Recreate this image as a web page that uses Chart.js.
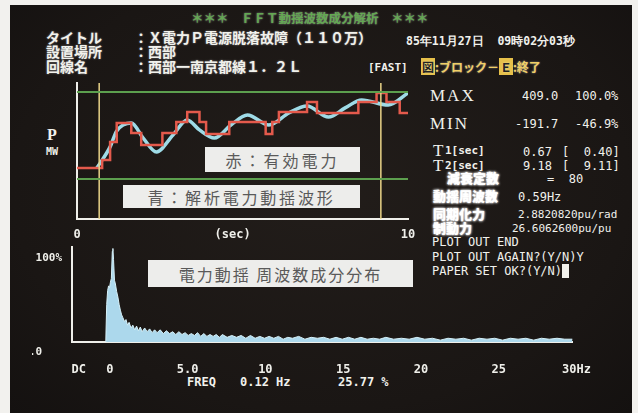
<!DOCTYPE html>
<html lang="ja">
<head>
<meta charset="UTF-8">
<title>FFT動揺波数成分解析</title>
<script src="https://cdn.jsdelivr.net/npm/chart.js"></script>
<style>
  body { margin:0; width:638px; height:413px; overflow:hidden; position:relative; background:#f2f1ee; font-family:'Noto Sans CJK JP', sans-serif; }
  .screen { position:absolute; left:10px; top:5px; width:622px; height:408px;
    background: radial-gradient(ellipse at 50% 45%, #221d1a 0%, #1a1614 70%, #141110 100%); }
  .t { position:absolute; white-space:nowrap; line-height:1; color:#f1f1ec; }
  .jp { font-family:'Noto Sans CJK JP', sans-serif; font-weight:700; font-size:14px; text-shadow:0 0 2px rgba(255,255,255,0.5); }
  .glow { font-family:'Noto Sans CJK JP', sans-serif; font-weight:900; font-size:13px; color:#fff; text-shadow:0 0 3px #fff, 0 0 2px #fff; }
  .m { font-family:'DejaVu Sans Mono', monospace; font-size:12px; }
  .mb { font-family:'DejaVu Sans Mono', monospace; font-size:12px; font-weight:700; }
  .serif { font-family:'Liberation Serif', serif; font-size:17px; letter-spacing:2px; }
  .box { position:absolute; background:#ededeb; color:#5a5a5a; font-family:'Noto Sans CJK JP', sans-serif; font-size:16px; line-height:1; display:flex; align-items:center; justify-content:center; white-space:nowrap; }
  .key { background:#e6c04a; color:#222; padding:0 1px; }
  canvas { position:absolute; }
</style>
</head>
<body>
<div class="screen"></div>

<!-- header -->
<div class="t jp" style="left:191px;top:12px;font-size:12.5px;color:#63a852;">＊＊＊　ＦＦＴ動揺波数成分解析　＊＊＊</div>
<div class="t jp" style="left:46px;top:30px;">タイトル</div>
<div class="t jp" style="left:134px;top:30px;">：Ｘ電力Ｐ電源脱落故障（１１０万）</div>
<div class="t mb" style="left:406px;top:36px;font-size:11.5px;">85年11月27日&nbsp;&nbsp;09時02分03秒</div>
<div class="t jp" style="left:46px;top:44px;">設置場所</div>
<div class="t jp" style="left:134px;top:44px;">：西部</div>
<div class="t jp" style="left:46px;top:59px;">回線名</div>
<div class="t jp" style="left:134px;top:59px;">：西部一南京都線１．２Ｌ</div>
<div class="t mb" style="left:368px;top:62px;font-size:11px;">[FAST]</div>
<div class="t jp" style="left:421px;top:61px;font-size:12px;color:#f0cf66;"><span class="key">図</span>:ブロック－<span class="key">Ｅ</span>:終了</div>

<!-- upper plot labels -->
<div class="t serif" style="left:47px;top:127px;font-size:16px;letter-spacing:0;font-weight:700;">P</div>
<div class="t mb" style="left:46px;top:147px;font-size:10px;">MW</div>
<div class="box" style="left:205px;top:147px;width:155px;height:25px;letter-spacing:3px;">赤：有効電力</div>
<div class="box" style="left:123px;top:185px;width:237px;height:23px;letter-spacing:2.8px;">青：解析電力動揺波形</div>

<!-- right panel -->
<div class="t serif" style="left:430px;top:87px;">MAX</div>
<div class="t m" style="left:522px;top:90px;">409.0</div>
<div class="t m" style="left:575px;top:90px;">100.0%</div>
<div class="t serif" style="left:430px;top:115px;">MIN</div>
<div class="t m" style="left:515px;top:118px;">-191.7</div>
<div class="t m" style="left:575px;top:118px;">-46.9%</div>
<div class="t serif" style="left:433px;top:142px;letter-spacing:0;">T</div>
<div class="t mb" style="left:445px;top:145px;font-size:11px;">1[sec]</div>
<div class="t m" style="left:523px;top:146px;">0.67</div>
<div class="t m" style="left:562px;top:146px;">[&nbsp;&nbsp;0.40]</div>
<div class="t serif" style="left:433px;top:157px;letter-spacing:0;">T</div>
<div class="t mb" style="left:445px;top:160px;font-size:11px;">2[sec]</div>
<div class="t m" style="left:523px;top:160px;">9.18</div>
<div class="t m" style="left:562px;top:160px;">[&nbsp;&nbsp;9.11]</div>
<div class="t glow" style="left:447px;top:171px;">減衰定数</div>
<div class="t m" style="left:547px;top:173px;">=&nbsp;&nbsp;80</div>
<div class="t glow" style="left:433px;top:189px;">動揺周波数</div>
<div class="t m" style="left:518px;top:191px;">0.59Hz</div>
<div class="t glow" style="left:433px;top:207px;">同期化力</div>
<div class="t m" style="left:518px;top:209px;font-size:11px;">2.8820820pu/rad</div>
<div class="t glow" style="left:433px;top:221px;">制動力</div>
<div class="t m" style="left:512px;top:223px;font-size:11px;">26.6062600pu/pu</div>
<div class="t m" style="left:432px;top:236px;">PLOT OUT END</div>
<div class="t m" style="left:432px;top:251px;">PLOT OUT AGAIN?(Y/N)Y</div>
<div class="t m" style="left:432px;top:265px;">PAPER SET OK?(Y/N)<span style="background:#f1f1ec;">&nbsp;</span></div>

<!-- lower plot labels -->
<div class="box" style="left:148px;top:260px;width:265px;height:27px;letter-spacing:2px;">電力動揺&nbsp;周波数成分分布</div>
<div class="t mb" style="left:187px;top:376px;">FREQ</div>
<div class="t mb" style="left:240px;top:376px;">0.12 Hz</div>
<div class="t mb" style="left:338px;top:376px;">25.77 %</div>

<canvas id="wave" width="360" height="166" style="left:62px;top:76px;"></canvas>
<canvas id="spec" width="570" height="135" style="left:30px;top:238px;"></canvas>

<script>
// upper plot: active power (red, stepped) and analysed oscillation (light blue)
const redSec = [0, 0.76, 1.0, 1.2, 1.64, 1.94, 2.58, 3.0, 3.33, 3.7, 3.9, 4.6, 5.7, 5.9, 6.1, 6.95, 7.25, 8.5, 9.05, 9.35, 9.75, 10];
const redMW  = [-116, -60, 64, 195, 126, 43, 126, 202, 271, 202, 119, 202, 119, 202, 271, 340, 264, 340, 402, 340, 264, 264];
const waveSec = [0.6, 1.0, 1.2, 1.64, 2.0, 2.4, 2.9, 3.33, 3.7, 4.15, 4.65, 5.15, 5.8, 6.4, 6.95, 7.6, 8.1, 8.6, 9.4, 10];
const waveMW  = [-116, 30, 140, 195, 91, -5, 112, 216, 147, 91, 181, 250, 181, 264, 312, 236, 299, 354, 319, 402];
const maxMW = 409.0;
const minMW = -191.7;
const t1 = 0.67;
const t2 = 9.18;
const secTicks = [0, 4.7, 10];
const secLabels = ['0', '(sec)', '10'];

// lower plot: frequency spectrum in percent
const specHz = [
  0, 0.06, 0.12, 0.18, 0.24, 0.3, 0.36, 0.42, 0.46, 0.5,
  0.56, 0.62, 0.7, 0.78, 0.86, 0.94, 1.02, 1.1, 1.2, 1.3,
  1.4, 1.5, 1.62, 1.74, 1.86, 1.98, 2.1, 2.22, 2.34, 2.5,
  2.66, 2.82, 2.98, 3.14, 3.3, 3.5, 3.7, 3.9, 4.1, 4.3,
  4.5, 4.7, 4.9, 5.1, 5.3, 5.5, 5.7, 5.9, 6.1, 6.3,
  6.5, 6.7, 6.9, 7.1, 7.3, 7.5, 7.8, 8.1, 8.4, 8.7,
  9.0, 9.3, 9.6, 9.9, 10.2, 10.5, 10.8, 11.1, 11.4, 11.7,
  12.0, 12.4, 12.8, 13.2, 13.6, 14.0, 14.4, 14.8, 15.2, 15.6,
  16.0, 16.4, 16.8, 17.2, 17.6, 18.0, 18.5, 19.0, 19.5, 20.0,
  20.5, 21.0, 21.5, 22.0, 22.5, 23.0, 23.5, 24.0, 24.5, 25.0,
  25.5, 26.0, 26.5, 27.0, 27.5, 28.0, 28.5, 29.0, 29.5, 30.0
];
const specPct = [
  0, 40, 55, 60, 58, 64, 68, 97, 100, 88,
  66, 62, 54, 48, 40, 34, 29, 26, 22, 24,
  18, 21, 15, 18, 13, 17, 12, 16, 11, 15,
  11, 14, 10, 13, 10, 13, 9, 12, 9, 11,
  8, 11, 8, 10, 7, 9, 7, 10, 6, 9,
  6, 8, 6, 8, 5, 8, 5, 7, 5, 7,
  4, 7, 4, 6, 4, 6, 4, 6, 3, 5,
  4, 6, 3, 5, 4, 5, 3, 5, 3, 5,
  3, 5, 3, 4, 3, 5, 3, 4, 3, 5,
  3, 4, 2, 4, 3, 4, 2, 4, 3, 4,
  2, 4, 3, 4, 2, 4, 3, 4, 3, 3
];
const cursorHz = 0.12;
const hzTicks = [-2, 0, 5, 10, 15, 20, 25, 30];
const hzLabels = ['DC', '0', '5.0', '10', '15', '20', '25', '30Hz'];
const pctTicks = [0, 100];
const pctLabels = ['.0   ', '100%'];

const pts = (xs, ys) => xs.map((x, i) => ({ x: x, y: ys[i] }));
const white = '#efefea';
const tickFont = { family: 'DejaVu Sans Mono', size: 12, weight: 'bold' };

new Chart(document.getElementById('wave'), {
  type: 'line',
  data: {
    datasets: [
      { data: [{ x: 0, y: maxMW }, { x: 10, y: maxMW }], borderColor: '#5c9f4e', borderWidth: 2 },
      { data: [{ x: 0, y: minMW }, { x: 10, y: minMW }], borderColor: '#5c9f4e', borderWidth: 2 },
      { data: [{ x: t1, y: -468 }, { x: t1, y: 471 }], borderColor: '#e9d488', borderWidth: 1.5 },
      { data: [{ x: t2, y: -468 }, { x: t2, y: 471 }], borderColor: '#e9d488', borderWidth: 1.5 },
      { data: pts(redSec, redMW), stepped: 'before', borderColor: '#e45a4c', borderWidth: 2.5 },
      { data: pts(waveSec, waveMW), cubicInterpolationMode: 'monotone', borderColor: '#9edbe7', borderWidth: 3.5 },
      { data: pts(waveSec, waveMW), cubicInterpolationMode: 'monotone', borderColor: '#f8fcfa', borderWidth: 2 }
    ]
  },
  options: {
    responsive: false,
    animation: false,
    layout: { padding: { left: 15, right: 14, top: 7, bottom: 0 } },
    elements: { point: { radius: 0 } },
    plugins: { legend: { display: false }, tooltip: { enabled: false } },
    scales: {
      x: {
        type: 'linear', min: 0, max: 10,
        grid: { display: false },
        border: { color: white, width: 2 },
        afterBuildTicks: s => { s.ticks = secTicks.map(v => ({ value: v })); },
        afterFit: s => { s.height = 23; },
        ticks: { color: white, font: tickFont, padding: 1, autoSkip: false, maxRotation: 0,
          callback: v => secLabels[secTicks.indexOf(v)] }
      },
      y: {
        min: -468, max: 471,
        grid: { display: false },
        border: { color: white, width: 2 },
        ticks: { display: false },
        afterFit: s => { s.width = 0; }
      }
    }
  }
});

new Chart(document.getElementById('spec'), {
  type: 'line',
  data: {
    datasets: [
      { data: pts(specHz, specPct), fill: 'origin', backgroundColor: '#acd8ec', borderColor: '#d6f1f9', borderWidth: 1, tension: 0 },
      { data: [{ x: cursorHz, y: -6 }], pointStyle: 'triangle', pointRadius: 3.5, backgroundColor: '#e8c34e', borderColor: '#e8c34e', showLine: false, clip: false }
    ]
  },
  options: {
    responsive: false,
    animation: false,
    layout: { padding: { left: 2, right: 23, top: 7, bottom: 0 } },
    elements: { point: { radius: 0 } },
    plugins: { legend: { display: false }, tooltip: { enabled: false } },
    scales: {
      x: {
        type: 'linear', min: -2.17, max: 30,
        grid: { display: false },
        border: { color: white, width: 2 },
        afterBuildTicks: s => { s.ticks = hzTicks.map(v => ({ value: v })); },
        afterFit: s => { s.height = 31; },
        ticks: { color: white, font: tickFont, padding: 13, autoSkip: false, maxRotation: 0, labelOffset: 4,
          callback: v => hzLabels[hzTicks.indexOf(v)] }
      },
      y: {
        min: 0, max: 102,
        grid: { display: false },
        border: { color: white, width: 2 },
        afterBuildTicks: s => { s.ticks = pctTicks.map(v => ({ value: v })); },
        afterFit: s => { s.width = 40; },
        ticks: { color: white, font: { family: 'DejaVu Sans Mono', size: 11, weight: 'bold' }, padding: 2, labelOffset: 10,
          callback: v => pctLabels[pctTicks.indexOf(v)] }
      }
    }
  }
});
</script>
</body>
</html>
